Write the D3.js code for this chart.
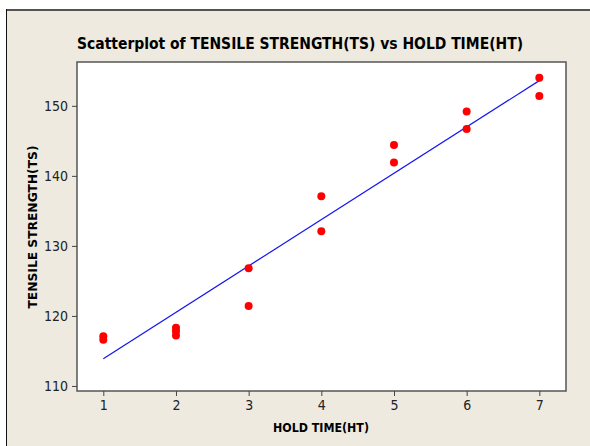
<!DOCTYPE html>
<html>
<head>
<meta charset="utf-8">
<script src="https://cdn.jsdelivr.net/npm/d3@7"></script>
<style>
  html, body { margin: 0; padding: 0; background: #fff; }
  svg { display: block; }
</style>
</head>
<body>
<div id="chart"></div>
<script>
// hold time (x) and tensile strength (y)
const holdTime = [1, 1, 2, 2, 2, 3, 3, 4, 4, 5, 5, 6, 6, 7, 7];
const tensile = [117.1, 116.6, 118.3, 117.8, 117.2, 126.8, 121.4, 137.1, 132.1, 144.4, 141.9, 149.2, 146.7, 154.0, 151.4];
// fitted line end points, as drawn
const fitX = [1, 7];
const fitY = [113.9, 153.6];
const xTicks = [1, 2, 3, 4, 5, 6, 7];
const yTicks = [110, 120, 130, 140, 150];

const W = 590, H = 446;
const plot = { left: 77, top: 62, right: 566, bottom: 391 };
const font = 'Tahoma, "DejaVu Sans Condensed", "DejaVu Sans", sans-serif';

const svg = d3.select('#chart').append('svg')
  .attr('width', W)
  .attr('height', H);

// frame
svg.append('rect').attr('x', 6).attr('y', 10).attr('width', W - 6).attr('height', H - 10).attr('fill', '#eeeae0');
svg.append('line').attr('x1', 6).attr('x2', W).attr('y1', 10).attr('y2', 10)
  .attr('stroke', '#55554f').attr('stroke-width', 2);
svg.append('line').attr('x1', 6.5).attr('x2', 6.5).attr('y1', 9).attr('y2', H)
  .attr('stroke', '#111').attr('stroke-width', 1);

const x = d3.scaleLinear().domain([0.638, 7.367]).range([plot.left, plot.right]);
const y = d3.scaleLinear().domain([109.28, 156.26]).range([plot.bottom, plot.top]);

svg.append('rect')
  .attr('x', plot.left).attr('y', plot.top)
  .attr('width', plot.right - plot.left).attr('height', plot.bottom - plot.top)
  .attr('fill', '#fff').attr('stroke', '#555').attr('stroke-width', 1.5);

const xAxis = svg.append('g')
  .attr('transform', `translate(0,${plot.bottom})`)
  .call(d3.axisBottom(x).tickValues(xTicks).tickSize(5).tickPadding(4).tickFormat(d3.format('d')));
const yAxis = svg.append('g')
  .attr('transform', `translate(${plot.left},0)`)
  .call(d3.axisLeft(y).tickValues(yTicks).tickSize(5).tickPadding(4).tickFormat(d3.format('d')));

[xAxis, yAxis].forEach(g => {
  g.select('.domain').remove();
  g.selectAll('line').attr('stroke', '#444');
  g.selectAll('text').attr('font-family', font).attr('font-size', 14).attr('fill', '#222');
});

svg.append('line')
  .attr('x1', x(fitX[0])).attr('y1', y(fitY[0]))
  .attr('x2', x(fitX[1])).attr('y2', y(fitY[1]))
  .attr('stroke', '#1515f0').attr('stroke-width', 1.2);

svg.append('g')
  .selectAll('circle')
  .data(holdTime.map((h, i) => [h, tensile[i]]))
  .join('circle')
  .attr('cx', d => x(d[0]))
  .attr('cy', d => y(d[1]))
  .attr('r', 4)
  .attr('fill', '#ff0000');

svg.append('text')
  .attr('x', 300).attr('y', 49)
  .attr('text-anchor', 'middle')
  .attr('font-family', font).attr('font-weight', 'bold').attr('font-size', 16)
  .attr('textLength', 446).attr('lengthAdjust', 'spacingAndGlyphs')
  .text('Scatterplot of TENSILE STRENGTH(TS) vs HOLD TIME(HT)');

svg.append('text')
  .attr('x', 321).attr('y', 432)
  .attr('text-anchor', 'middle')
  .attr('font-family', font).attr('font-weight', 'bold').attr('font-size', 13)
  .attr('textLength', 96).attr('lengthAdjust', 'spacingAndGlyphs')
  .text('HOLD TIME(HT)');

svg.append('text')
  .attr('transform', 'translate(37,227) rotate(-90)')
  .attr('text-anchor', 'middle')
  .attr('font-family', font).attr('font-weight', 'bold').attr('font-size', 13)
  .attr('textLength', 163).attr('lengthAdjust', 'spacingAndGlyphs')
  .text('TENSILE STRENGTH(TS)');
</script>
</body>
</html>
